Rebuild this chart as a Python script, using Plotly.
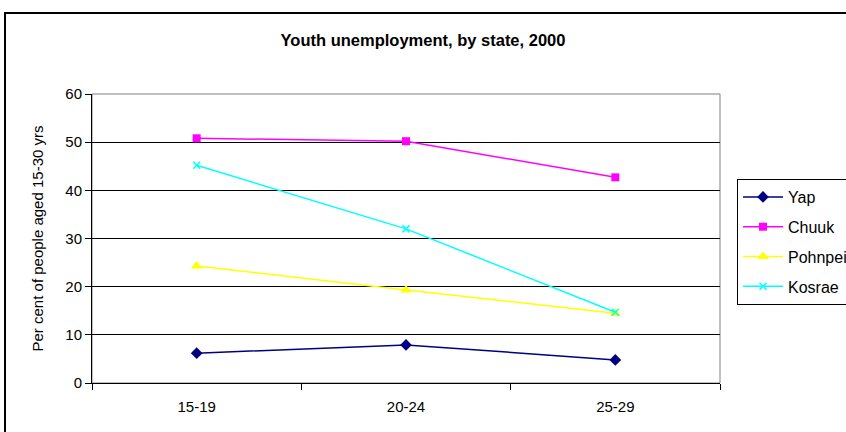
import plotly.graph_objects as go

# Age groups and unemployment rates (%) by state
age_groups = ["15-19", "20-24", "25-29"]
yap = [6.2, 7.9, 4.8]
chuuk = [50.8, 50.2, 42.7]
pohnpei = [24.3, 19.3, 14.5]
kosrae = [45.2, 32.0, 14.7]

series = [
    ("Yap", yap, "#000080", "diamond", 9),
    ("Chuuk", chuuk, "#FF00FF", "square", 8),
    ("Pohnpei", pohnpei, "#FFFF00", "triangle-up", 10),
    ("Kosrae", kosrae, "#00FFFF", "x-thin", 7),
]

fig = go.Figure()
for i, (name, vals, color, symbol, size) in enumerate(series):
    fig.add_trace(go.Scatter(
        x=age_groups, y=vals, name=name, mode="lines+markers",
        legendgroup=f"g{i}",
        line=dict(color=color, width=1.5),
        marker=dict(symbol=symbol, size=size, color=color,
                    line=dict(color=color, width=1.5 if symbol == "x-thin" else 0)),
    ))

# Plot-area geometry in pixels, used to place the outer frame
W, H = 846, 432
L, R, T, B = 92, 720, 94, 383

def px_to_paper_x(p):
    return (p - L) / (R - L)

def px_to_paper_y(p):
    return (B - p) / (B - T)

FONT = "Liberation Sans, Arial, sans-serif"

fig.update_layout(
    width=W, height=H,
    margin=dict(l=L, r=W - R, t=T, b=H - B, autoexpand=False),
    paper_bgcolor="white", plot_bgcolor="white",
    font=dict(family=FONT, size=15, color="black"),
    title=dict(text="<b>Youth unemployment, by state, 2000</b>",
               x=0.5, xref="container", xanchor="center",
               y=(H - 40) / H, yanchor="middle",
               font=dict(size=16.5, family=FONT)),
    showlegend=True,
    legend=dict(x=px_to_paper_x(737), y=px_to_paper_y(179),
                xanchor="left", yanchor="top",
                bordercolor="black", borderwidth=1, bgcolor="white",
                tracegroupgap=6, font=dict(size=16),
                itemwidth=40),
    xaxis=dict(type="category", tickson="boundaries", ticks="outside",
               ticklen=6, tickcolor="black", showline=True, linecolor="black",
               linewidth=1, showgrid=False, range=[-0.5, 2.5],
               ticklabelstandoff=10, tickfont=dict(size=15)),
    yaxis=dict(range=[0, 60], dtick=10, ticks="outside", ticklen=6,
               tickcolor="black", showline=True, linecolor="black", linewidth=1,
               showgrid=True, gridcolor="black", gridwidth=1, zeroline=False,
               title=dict(text="Per cent of people aged 15-30 yrs", standoff=18,
                          font=dict(size=15)),
               tickfont=dict(size=15)),
    shapes=[
        # grey plot-area frame
        dict(type="rect", xref="paper", yref="paper", x0=0, x1=1, y0=0, y1=1,
             line=dict(color="#808080", width=1), layer="below"),
        # outer chart frame
        dict(type="rect", xref="paper", yref="paper",
             x0=px_to_paper_x(5), x1=px_to_paper_x(860),
             y0=px_to_paper_y(450), y1=px_to_paper_y(13),
             line=dict(color="black", width=2)),
    ],
)

fig.write_html("out.html")
